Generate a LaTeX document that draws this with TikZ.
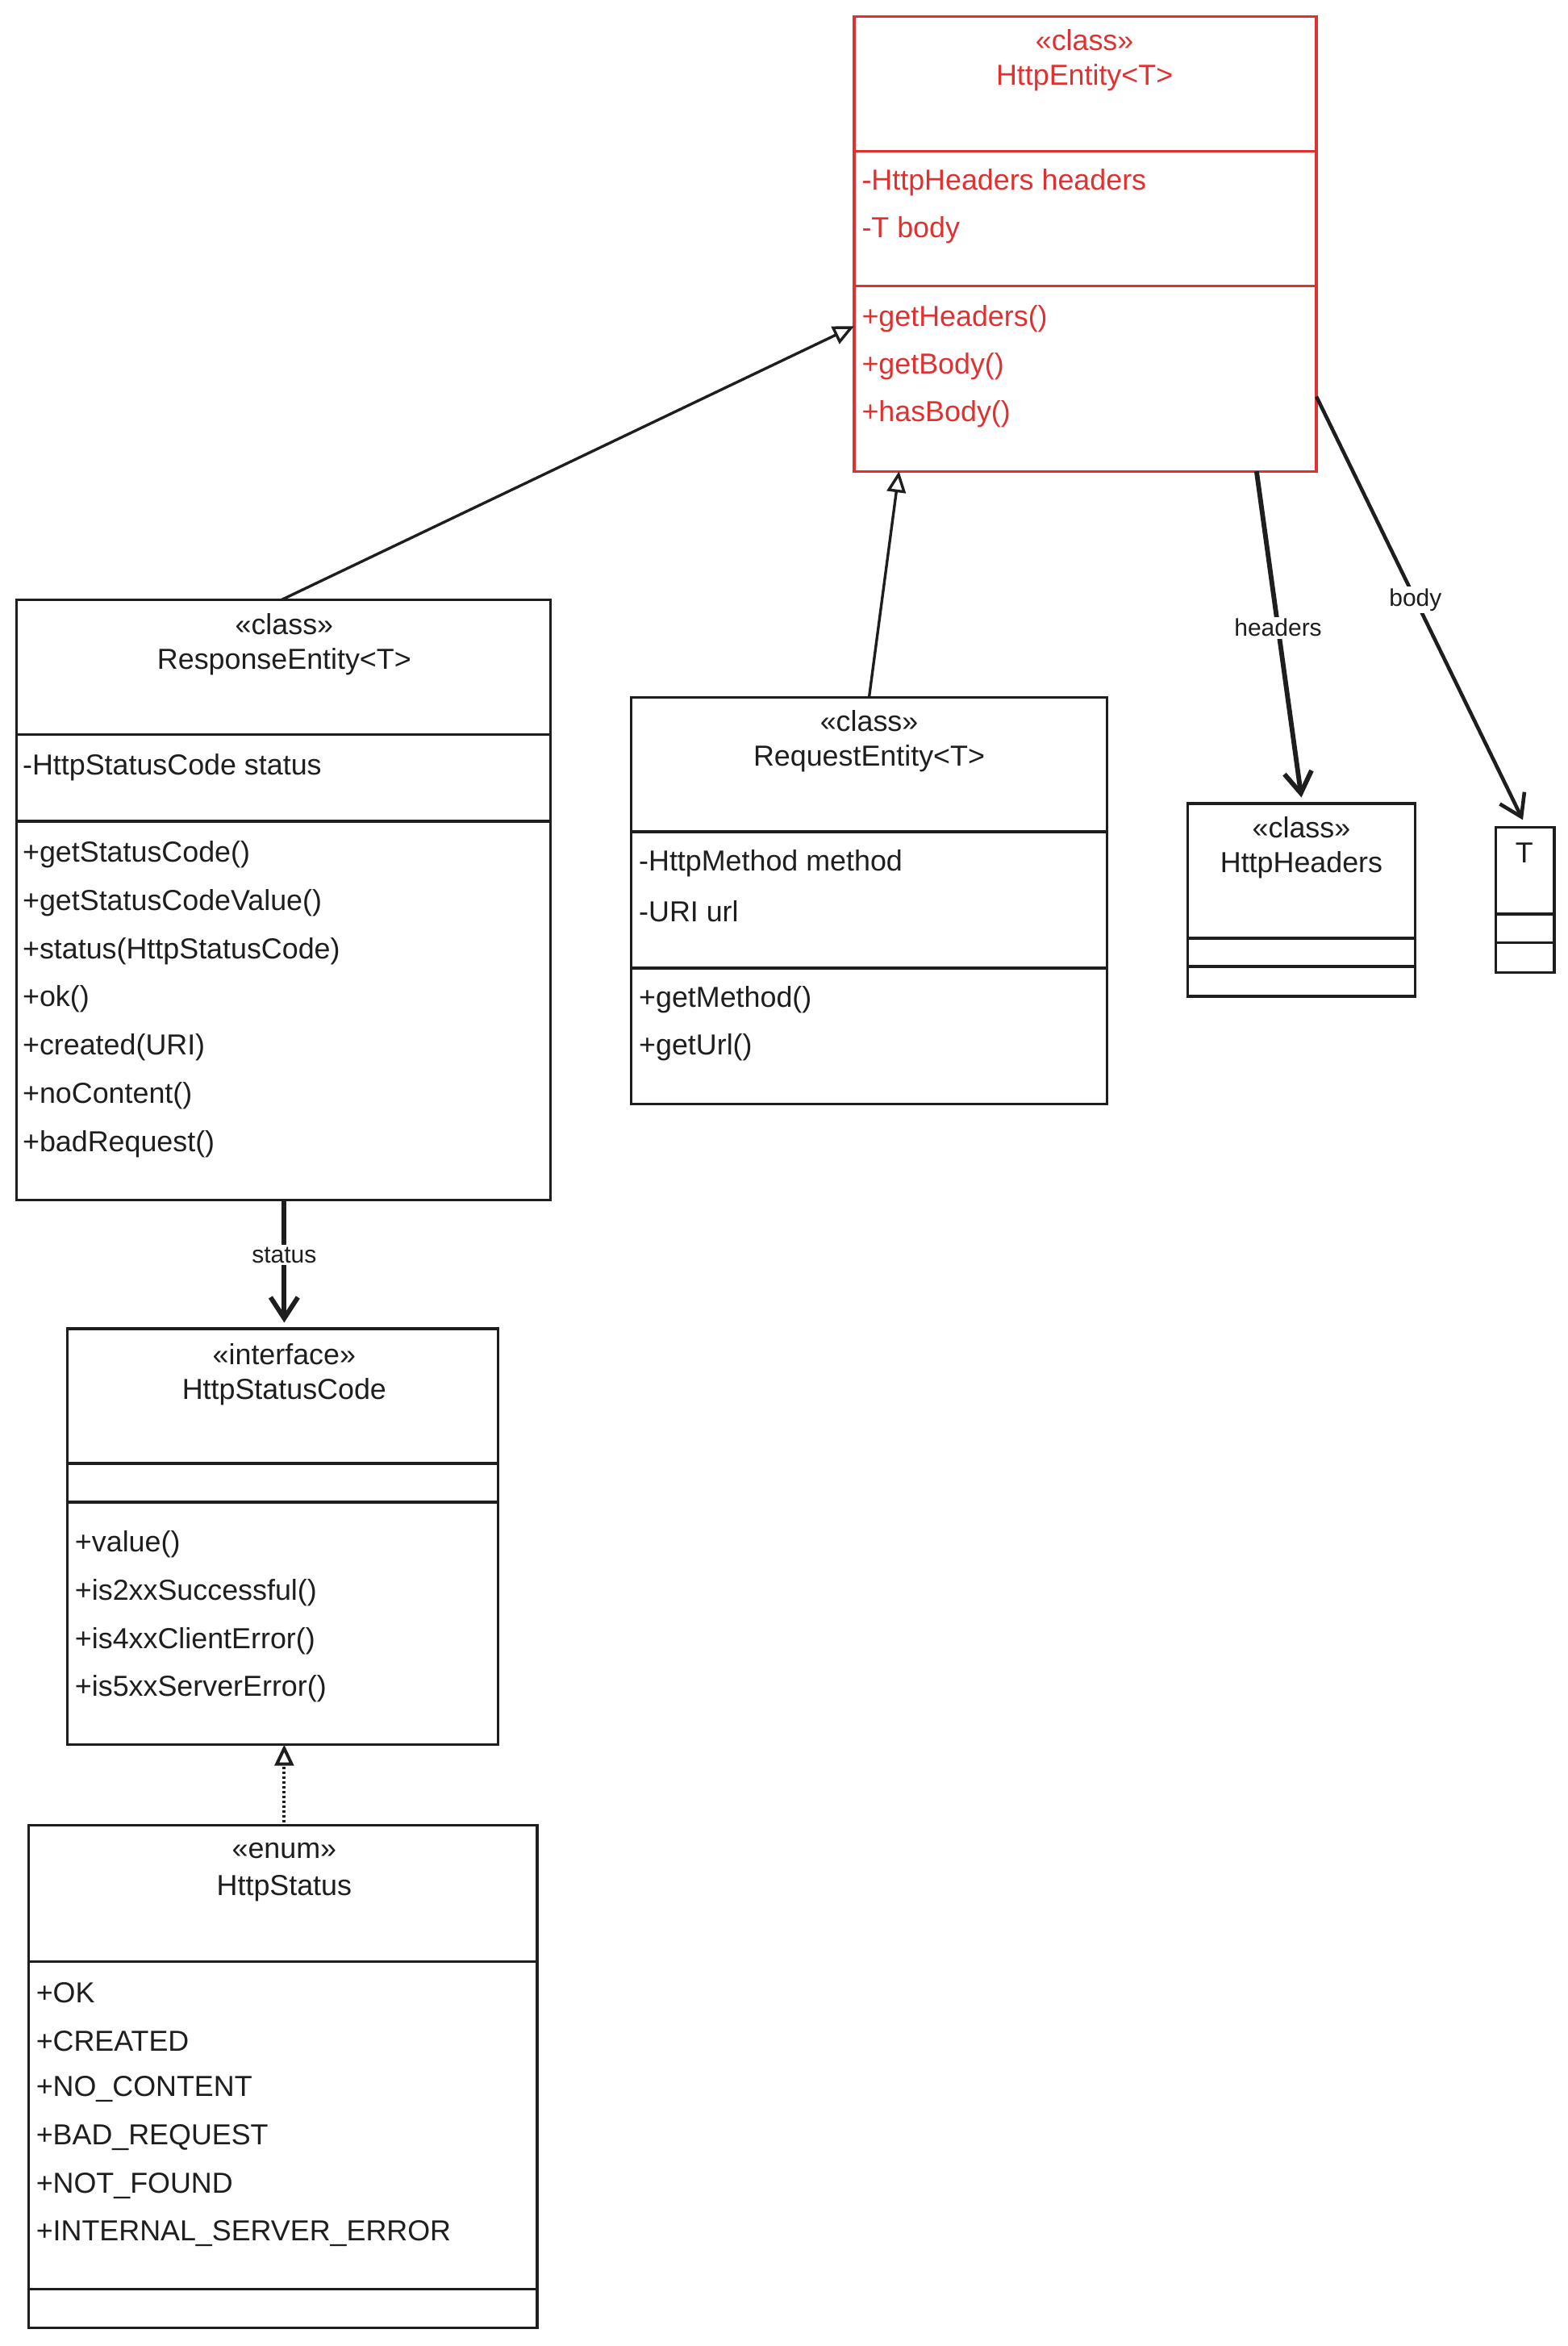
\documentclass[tikz,border=0pt]{standalone}
\usepackage{fontspec}
\setmainfont{Liberation Sans}
\usetikzlibrary{arrows.meta}
\definecolor{umlred}{RGB}{224,49,49}
\definecolor{ink}{RGB}{30,30,30}
\begin{document}
\begin{tikzpicture}[x=0.05cm,y=-0.05cm,
  box/.style={draw=ink,line width=2.6pt},
  rbox/.style={draw=umlred,line width=2.6pt},
  ln/.style={anchor=west,inner sep=0pt,font=\fontsize{27.5}{32}\selectfont,text=ink},
  rln/.style={ln,text=umlred},
  hd/.style={inner sep=0pt,font=\fontsize{27.5}{32}\selectfont,text=ink},
  rhd/.style={hd,text=umlred},
  lab/.style={fill=white,inner sep=2pt,font=\fontsize{23}{27}\selectfont,text=ink},
  gen/.style={draw=ink,line width=2.6pt,-{Triangle[open,length=20pt,width=18pt]}},
  assoc/.style={draw=ink,line width=4.5pt,-{Straight Barb[length=20pt,width=26pt]}}]
\useasboundingbox (0,0) rectangle (1048,1568);
% HttpEntity
\draw[rbox] (571,11) rectangle (880,315);
\draw[rbox] (571,101) -- (880,101); \draw[rbox] (571,191) -- (880,191);
\node[rhd] (he1) at (725,27) {«class»};
\node[rhd] (he2) at (725,52) {HttpEntity<T>};
\node[rln] (he3) at (576,122) {-HttpHeaders headers};
\node[rln] (he4) at (576,154) {-T body};
\node[rln] (he5) at (576,213) {+getHeaders()};
\node[rln] (he6) at (576,245) {+getBody()};
\node[rln] (he7) at (576,277) {+hasBody()};
\coordinate (heL) at (571,218); \coordinate (heB1) at (601,315);
\coordinate (heB2) at (840,315); \coordinate (heR) at (880,265);
% ResponseEntity
\draw[box] (11,401) rectangle (368,802);
\draw[box] (11,491) -- (368,491); \draw[box] (11,549) -- (368,549);
\node[hd] (re1) at (190,417) {«class»};
\node[hd] (re2) at (190,442) {ResponseEntity<T>};
\node[ln] (re3) at (15,513) {-HttpStatusCode status};
\foreach \t [count=\i] in {+getStatusCode(),+getStatusCodeValue(),+status(HttpStatusCode),+ok(),+created(URI),+noContent(),+badRequest()}
  \node[ln] (rem\i) at (15,{571+(\i-1)*32.3}) {\t};
\coordinate (reT) at (188,401); \coordinate (reB) at (190,802);
% RequestEntity
\draw[box] (422,466) rectangle (740,738);
\draw[box] (422,556) -- (740,556); \draw[box] (422,647) -- (740,647);
\node[hd] (q1) at (581,482) {«class»};
\node[hd] (q2) at (581,507) {RequestEntity<T>};
\node[ln] (q3) at (427,577) {-HttpMethod method};
\node[ln] (q4) at (427,609) {-URI url};
\node[ln] (q5) at (427,668) {+getMethod()};
\node[ln] (q6) at (427,700) {+getUrl()};
\coordinate (qT) at (581,466);
% HttpHeaders
\draw[box] (794,537) rectangle (946,666);
\draw[box] (794,627) -- (946,627); \draw[box] (794,646) -- (946,646);
\node[hd] (h1) at (870,553) {«class»};
\node[hd] (h2) at (870,578) {HttpHeaders};
\coordinate (hT) at (870,533);
% T
\draw[box] (1000,553) rectangle (1039,650);
\draw[box] (1000,611) -- (1039,611); \draw[box] (1000,630) -- (1039,630);
\node[hd] (t1) at (1019,570) {T};
\coordinate (tT) at (1018,548);
% HttpStatusCode
\draw[box] (45,888) rectangle (333,1166);
\draw[box] (45,978) -- (333,978); \draw[box] (45,1004) -- (333,1004);
\node[hd] (s1) at (190,905) {«interface»};
\node[hd] (s2) at (190,930) {HttpStatusCode};
\foreach \t [count=\i] in {+value(),+is2xxSuccessful(),+is4xxClientError(),+is5xxServerError()}
  \node[ln] (sm\i) at (50,{1032+(\i-1)*32.3}) {\t};
\coordinate (sT) at (190,884); \coordinate (sB) at (190,1166);
% HttpStatus
\draw[box] (19,1220) rectangle (359,1556);
\draw[box] (19,1311) -- (359,1311); \draw[box] (19,1530) -- (359,1530);
\node[hd] (e1) at (190,1237) {«enum»};
\node[hd] (e2) at (190,1262) {HttpStatus};
\foreach \t [count=\i] in {+OK,+CREATED,+NO\_CONTENT,+BAD\_REQUEST,+NOT\_FOUND,+INTERNAL\_SERVER\_ERROR}
  \node[ln] (em\i) at (24,{1332+(\i-1)*32.2}) {\t};
\coordinate (eT) at (190,1218);
% connectors
\draw[gen] (reT) -- (heL);
\draw[gen] (qT) -- (heB1);
\draw[assoc] (heB2) -- node[lab,pos=0.48] {headers} (hT);
\draw[assoc,line width=3.5pt] (heR) -- node[lab,pos=0.48] {body} (tT);
\draw[assoc] (reB) -- node[lab,pos=0.45] {status} (sT);
\draw[gen,dotted,line width=3pt] (eT) -- (sB);
\end{tikzpicture}
\end{document}
